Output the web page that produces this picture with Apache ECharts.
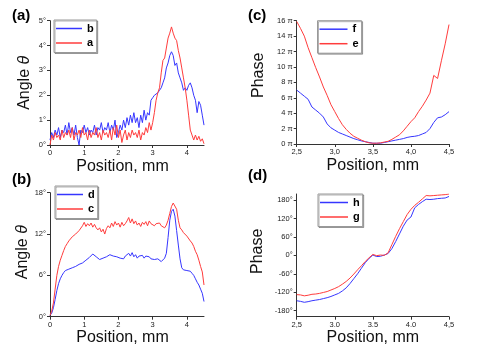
<!DOCTYPE html>
<html>
<head>
<meta charset="utf-8">
<script src="https://cdn.jsdelivr.net/npm/echarts@6/dist/echarts.min.js"></script>
<style>
html,body{margin:0;padding:0;background:#fff;}
#chart{width:491px;height:347px;}
</style>
</head>
<body>
<div id="chart"></div>
<script>
// positions, mm
var posAB=[0,0.05,0.1,0.15,0.2,0.25,0.3,0.35,0.4,0.45,
	0.5,0.55,0.6,0.65,0.7,0.75,0.8,0.85,0.9,0.95,
	1,1.05,1.1,1.15,1.2,1.25,1.3,1.35,1.4,1.45,
	1.5,1.55,1.6,1.65,1.7,1.75,1.8,1.85,1.9,1.95,
	2,2.05,2.1,2.15,2.2,2.25,2.3,2.35,2.4,2.45,
	2.5,2.55,2.6,2.65,2.7,2.75,2.8,2.85,2.9,2.95,
	3,3.05,3.1,3.15,3.2,3.25,3.3,3.35,3.4,3.45,
	3.5,3.55,3.6,3.65,3.7,3.75,3.8,3.85,3.9,3.95,
	4,4.05,4.1,4.15,4.2,4.25,4.3,4.35,4.4,4.45,
	4.5];
var posCD=[2.5,2.55,2.6,2.65,2.7,2.75,2.8,2.85,2.9,2.95,
	3,3.05,3.1,3.15,3.2,3.25,3.3,3.35,3.4,3.45,
	3.5,3.55,3.6,3.65,3.7,3.75,3.8,3.85,3.9,3.95,
	4,4.05,4.1,4.15,4.2,4.25,4.3,4.35,4.4,4.45,
	4.5];

// (a) angle, degrees
var angleB=[0.2,0.5,0.3,0.6,0.4,0.7,0.3,0.6,0.5,0.8,
	0.4,0.9,0.5,0.7,0.4,0.8,0.3,0.0,0.6,0.5,
	0.8,0.5,0.7,0.4,0.6,0.5,0.8,0.4,0.7,0.6,
	0.9,0.5,0.7,0.6,0.9,0.5,0.8,0.6,1.0,0.3,
	0.5,0.8,0.6,1.0,0.7,1.1,0.8,1.2,0.9,1.3,
	0.9,1.1,0.7,1.2,0.9,1.4,1.0,1.3,1.2,1.8,
	1.9,2.0,2.0,2.1,2.2,2.3,2.5,2.7,3.1,3.3,
	3.6,3.75,3.6,3.2,3.3,2.9,2.7,2.5,2.2,2.3,
	2.2,2.4,2.5,2.3,2.0,1.8,1.3,1.75,1.6,1.2,
	0.8];
var angleA=[0.0,0.4,0.2,0.5,0.3,0.4,0.2,0.6,0.3,0.5,
	0.4,0.6,0.3,0.7,0.2,0.5,0.4,0.6,0.3,0.7,
	0.4,0.5,0.2,0.6,0.3,0.5,0.4,0.7,0.3,0.5,
	0.2,0.6,0.4,0.5,0.3,0.6,0.2,0.7,0.4,0.8,
	0.3,0.6,0.1,0.4,0.6,0.2,0.5,0.3,0.6,0.4,
	0.5,0.3,0.6,0.2,0.5,0.4,0.7,0.5,0.9,0.6,
	0.9,1.3,1.8,2.1,2.3,2.9,3.4,3.5,3.9,4.3,
	4.5,4.75,4.5,4.3,4.2,3.8,3.5,3.1,2.7,2.3,
	1.8,1.2,0.6,0.4,0.2,0.4,0.2,0.35,0.15,0.25,
	0.05];

// (b) angle, degrees
var angleD=[0.2,0.5,1.3,2.5,3.8,4.8,5.5,6.0,6.4,6.7,
	6.8,6.9,7.0,7.1,7.0,7.3,7.4,7.6,7.5,7.8,
	8.0,8.2,8.3,8.6,8.8,9.1,9.0,8.7,8.8,8.3,
	8.1,8.5,8.3,8.7,8.5,9.0,9.1,8.8,9.0,8.7,
	8.9,8.5,8.7,8.4,8.8,8.6,9.2,8.8,9.3,8.7,
	9.0,8.5,8.8,8.6,8.9,8.5,8.8,8.6,8.7,8.4,
	8.6,8.3,8.5,8.4,8.2,8.0,7.9,8.5,9.2,11.5,
	14.0,15.3,15.6,14.6,12.5,10.4,8.4,7.1,6.8,6.9,
	6.7,6.8,6.6,6.3,6.0,5.5,5.0,4.6,4.0,3.4,
	2.2];
var angleC=[0.2,0.8,2.0,4.0,6.0,7.3,8.2,8.9,9.6,10.2,
	10.6,11.0,11.2,11.6,11.5,12.0,12.2,12.5,12.4,13.2,
	13.7,13.1,13.5,13.2,13.6,13.0,13.4,12.9,12.6,12.9,
	12.3,12.7,12.0,12.8,13.2,12.9,13.6,13.1,13.8,13.3,
	13.6,13.0,13.7,13.2,13.5,13.9,14.4,13.6,14.2,13.5,
	13.9,13.3,13.6,13.1,13.7,13.4,13.8,13.2,13.9,13.5,
	13.7,13.2,13.5,13.3,13.6,13.2,13.4,12.9,13.3,14.0,
	15.0,16.0,16.5,16.6,15.6,14.0,12.9,12.6,12.2,12.0,
	11.7,11.5,11.0,10.7,10.2,9.5,9.0,8.2,7.3,6.5,
	4.6];

// (c) phase, units of pi
var phaseF=[7.0,6.6,6.2,5.8,4.8,4.4,4.0,3.5,2.6,2.1,
	1.8,1.5,1.3,1.1,0.9,0.7,0.55,0.4,0.3,0.2,
	0.1,0.1,0.1,0.2,0.3,0.4,0.5,0.6,0.7,0.85,
	0.95,1.0,1.1,1.3,1.5,2.0,2.8,3.4,3.5,3.8,
	4.2];
var phaseE=[15.9,15.0,14.0,12.5,11.2,9.9,8.7,7.4,6.3,5.1,
	4.2,3.3,2.5,1.9,1.4,1.0,0.75,0.5,0.3,0.15,
	0.1,0.1,0.15,0.25,0.35,0.6,0.9,1.2,1.7,2.3,
	2.9,3.4,4.2,4.9,5.7,6.6,8.9,8.5,10.8,13.0,
	15.5];

// (d) phase, degrees
var phaseH=[-148,-150,-153,-151,-148,-146,-144,-141,-138,-134,
	-129,-124,-116,-106,-92,-76,-60,-42,-24,-10,
	1,-4,-3,1,6,22,45,70,95,115,
	125,155,166,175,183,182,183,185,186,187,
	192];
var phaseG=[-128,-129,-132,-130,-127,-126,-124,-121,-118,-113,
	-108,-102,-94,-85,-74,-61,-47,-34,-20,-8,
	3,-1,1,0,8,35,62,87,110,133,
	150,163,173,184,195,194,195,196,197,198,
	200];

var ticksAB=[0,1,2,3,4];
var ticksCD=[2.5,3,3.5,4,4.5];
var ticksDeg5=[0,1,2,3,4,5];
var ticksDeg18=[0,6,12,18];
var ticksPi=[0,2,4,6,8,10,12,14,16];
var ticksPhase=[-180,-120,-60,0,60,120,180];

var FONT='Liberation Sans, Arial, sans-serif';
var BLUE='#3636ff', RED='#ff3c3c', AXIS='#333';

function pairs(xs,ys){
	var out=[];
	for(var i=0;i<xs.length;i++) out.push([xs[i],ys[i]]);
	return out;
}

function axis(g,min,max,ticks,fmt,name,gap,pad){
	return {
		type:'value',gridIndex:g,min:min,max:max,
		name:name,nameLocation:'middle',nameGap:gap,
		nameTextStyle:{fontFamily:FONT,fontSize:16,color:'#111',padding:pad||0,
			rich:{i:{fontFamily:FONT,fontSize:16,fontStyle:'italic',color:'#111'}}},
		axisLine:{show:true,onZero:false,lineStyle:{color:AXIS,width:1}},
		axisTick:{show:true,length:3,customValues:ticks,lineStyle:{color:AXIS}},
		axisLabel:{customValues:ticks,fontFamily:FONT,fontSize:7.5,color:'#222',margin:4,formatter:fmt},
		splitLine:{show:false}
	};
}

function legend(names,left,top,w){
	return {
		data:names,orient:'vertical',left:left,top:top,
		padding:[3,3,4,2],itemGap:3.5,itemWidth:w,itemHeight:1.5,itemTextGap:5,
		icon:'rect',selectedMode:false,
		borderColor:'#999',borderWidth:1,backgroundColor:'#fff',
		shadowColor:'rgba(0,0,0,0.3)',shadowOffsetX:1,shadowOffsetY:1,
		textStyle:{fontFamily:FONT,fontSize:11,fontWeight:'bold',color:'#000'}
	};
}

function line(name,xi,xs,ys,color){
	return {
		type:'line',name:name,xAxisIndex:xi,yAxisIndex:xi,
		data:pairs(xs,ys),symbol:'none',showSymbol:false,
		lineStyle:{width:1,color:color},itemStyle:{color:color}
	};
}

var deg=function(v){return v+'°';};
var piFmt=function(v){return v+' π';};
var commaFmt=function(v){return v.toFixed(1).replace('.',',');};
var mixedFmt=function(v){
	var s=v.toFixed(1);
	return (v===2.5||v===4.5)?s.replace('.',','):s;
};
var intFmt=function(v){return String(v);};

var chart=echarts.init(document.getElementById('chart'));
var option={
	animation:false,
	backgroundColor:'#fff',
	grid:[
		{left:50,top:20.7,width:154,height:124.3},
		{left:50,top:192.7,width:154,height:124},
		{left:296.7,top:20.7,width:152.3,height:123.3},
		{left:296.7,top:194,width:152.3,height:122.7}
	],
	xAxis:[
		axis(0,0,4.5,ticksAB,intFmt,'Position, mm',14,[0,9,0,0]),
		axis(1,0,4.5,ticksAB,intFmt,'Position, mm',13,[0,9,0,0]),
		axis(2,2.5,4.5,ticksCD,commaFmt,'Position, mm',14),
		axis(3,2.5,4.5,ticksCD,mixedFmt,'Position, mm',13)
	],
	yAxis:[
		axis(0,0,5,ticksDeg5,deg,'Angle {i|θ}',17),
		axis(1,0,18,ticksDeg18,deg,'Angle {i|θ}',17,[0,0,0,5]),
		axis(2,0,16,ticksPi,piFmt,'Phase',30,[0,0,0,14]),
		axis(3,-200,200,ticksPhase,deg,'Phase',31,[0,0,0,8])
	],
	legend:[
		legend(['b','a'],54,20,26),
		legend(['d','c'],55,186,26),
		legend(['f','e'],317.5,20.7,28),
		legend(['h','g'],318,194,28)
	],
	graphic:[
		{type:'text',x:12,y:16,style:{text:'(a)',fontFamily:FONT,fontSize:15,fontWeight:'bold',fill:'#000',verticalAlign:'middle'}},
		{type:'text',x:12,y:180,style:{text:'(b)',fontFamily:FONT,fontSize:15,fontWeight:'bold',fill:'#000',verticalAlign:'middle'}},
		{type:'text',x:248,y:16,style:{text:'(c)',fontFamily:FONT,fontSize:15,fontWeight:'bold',fill:'#000',verticalAlign:'middle'}},
		{type:'text',x:248,y:176,style:{text:'(d)',fontFamily:FONT,fontSize:15,fontWeight:'bold',fill:'#000',verticalAlign:'middle'}}
	],
	series:[
		line('b',0,posAB,angleB,BLUE),
		line('a',0,posAB,angleA,RED),
		line('d',1,posAB,angleD,BLUE),
		line('c',1,posAB,angleC,RED),
		line('f',2,posCD,phaseF,BLUE),
		line('e',2,posCD,phaseE,RED),
		line('h',3,posCD,phaseH,BLUE),
		line('g',3,posCD,phaseG,RED)
	]
};
chart.setOption(option);
</script>
</body>
</html>
